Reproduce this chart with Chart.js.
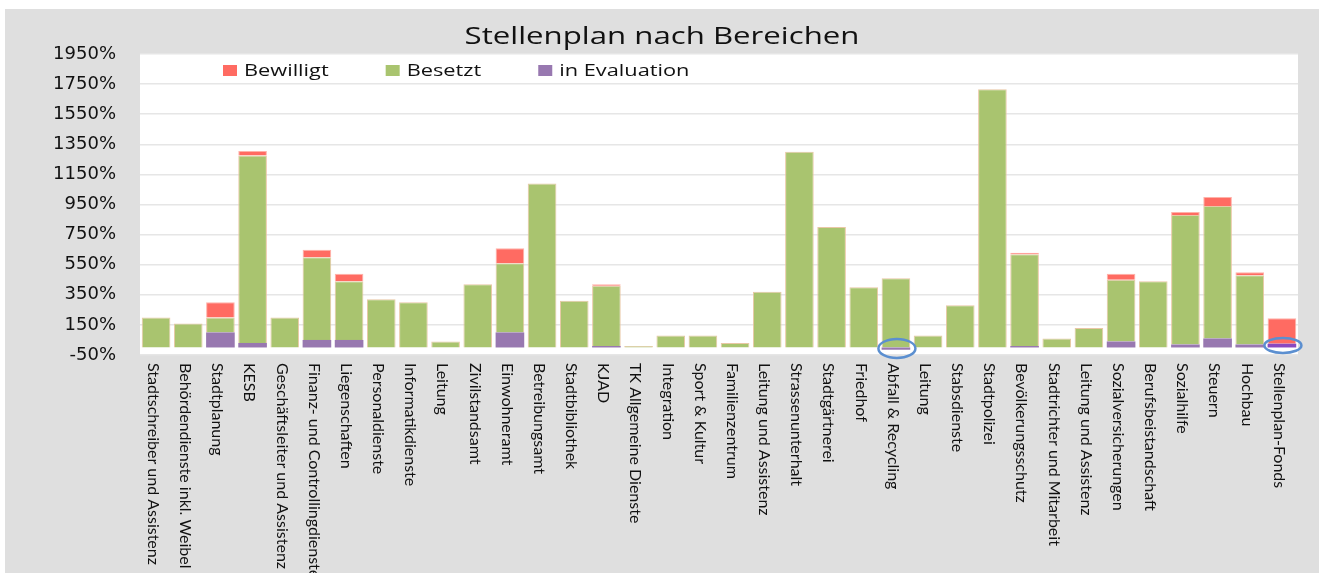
<!DOCTYPE html>
<html>
<head>
<meta charset="utf-8">
<script src="https://cdn.jsdelivr.net/npm/chart.js@4/dist/chart.umd.min.js"></script>
<style>
  html, body { margin: 0; padding: 0; background: #fff; }
  #chart { display: block; }
</style>
</head>
<body>
<canvas id="chart" width="1325" height="573"></canvas>
<script>
// Categories (x axis), left to right
const categories = [
  'Stadtschreiber und Assistenz', 'Behördendienste inkl. Weibel', 'Stadtplanung', 'KESB',
  'Geschäftsleiter und Assistenz', 'Finanz- und Controllingdienste', 'Liegenschaften',
  'Personaldienste', 'Informatikdienste', 'Leitung', 'Zivilstandsamt', 'Einwohneramt',
  'Betreibungsamt', 'Stadtbibliothek', 'KJAD', 'TK Allgemeine Dienste', 'Integration',
  'Sport & Kultur', 'Familienzentrum', 'Leitung und Assistenz', 'Strassenunterhalt',
  'Stadtgärtnerei', 'Friedhof', 'Abfall & Recycling', 'Leitung', 'Stabsdienste',
  'Stadtpolizei', 'Bevölkerungsschutz', 'Stadtrichter und Mitarbeit', 'Leitung und Assistenz',
  'Sozialversicherungen', 'Berufsbeistandschaft', 'Sozialhilfe', 'Steuern', 'Hochbau',
  'Stellenplan-Fonds'
];

// Series values in percent (stack: Evaluation at bottom, Besetzt, Bewilligt on top)
const inEvaluation = [
  0, 0, 100, 30, 0, 50, 50, 0, 0, 0, 0, 100, 0, 0, 10, 0, 0, 0,
  0, 0, 0, 0, 0, -15, 0, 0, 0, 10, 0, 0, 40, 0, 20, 60, 20, 25
];
const besetzt = [
  200, 160, 100, 1245, 200, 550, 390, 320, 300, 40, 420, 460, 1090, 310, 400, 10, 80, 80,
  30, 370, 1300, 800, 400, 460, 80, 280, 1715, 610, 60, 130, 410, 440, 860, 880, 460, 0
];
const bewilligt = [
  0, 0, 100, 30, 0, 50, 50, 0, 0, 0, 0, 100, 0, 0, 10, 0, 0, 0,
  0, 0, 0, 0, 0, 0, 0, 0, 0, 10, 0, 0, 40, 0, 20, 60, 20, 170
];

// Y axis ticks
const yMin = -50;
const yMax = 1950;
const yStep = 200;

// Categories marked with a circle in the original
const circled = ['Abfall & Recycling', 'Stellenplan-Fonds'];

const RED = '#ff6b62';
const GREEN = '#a9c46f';
const PURPLE = '#9878b0';
const BORDER = 'rgba(232, 196, 160, 0.95)';

const nz = arr => arr.map(v => (v === 0 ? null : v));
const evalColors = categories.map(c => (c === 'Stellenplan-Fonds' ? '#8a48c0' : PURPLE));

// text in the original is a bit stretched sideways
function wideText(ctx, text, x, y, sx) {
  ctx.save();
  ctx.translate(x, y);
  ctx.scale(sx, 1);
  ctx.fillText(text, 0, 0);
  ctx.restore();
}

const framePlugin = {
  id: 'frame',
  beforeDraw(chart) {
    const { ctx, chartArea: a } = chart;
    ctx.save();
    ctx.fillStyle = '#ffffff';
    ctx.fillRect(0, 0, chart.width, chart.height);
    ctx.fillStyle = '#dfdfdf';
    ctx.fillRect(5, 9, 1314, chart.height - 9);
    ctx.fillStyle = '#ffffff';
    ctx.fillRect(a.left, a.top, a.right - a.left, a.bottom - a.top);
    ctx.restore();
  },
  afterDatasetsDraw(chart) {
    const { ctx, scales } = chart;
    const x = scales.x, y = scales.y;
    ctx.save();
    ctx.strokeStyle = '#5b8fd0';
    ctx.lineWidth = 2.5;
    circled.forEach(name => {
      const i = categories.lastIndexOf(name);
      const last = i === categories.length - 1;
      const cx = x.getPixelForValue(i) + 1;
      const cy = y.getPixelForValue(0);
      ctx.beginPath();
      ctx.ellipse(cx, cy + (last ? -2 : 1), 18.5, last ? 7.5 : 9.5, 0, 0, Math.PI * 2);
      ctx.stroke();
    });
    ctx.restore();
  },
  afterDraw(chart) {
    const { ctx, scales } = chart;
    ctx.save();
    // title
    ctx.fillStyle = '#111';
    ctx.font = '24px "Open Sans"';
    ctx.textAlign = 'center';
    ctx.textBaseline = 'middle';
    wideText(ctx, 'Stellenplan nach Bereichen', 662, 37, 1.3);

    // legend (in the order of the original)
    ctx.font = '16px "Open Sans"';
    ctx.textAlign = 'left';
    const sx = 1.36;
    let lx = 223;
    [2, 1, 0].forEach(di => {
      const ds = chart.data.datasets[di];
      ctx.fillStyle = ds.legendColor;
      ctx.fillRect(lx, 65, 14, 11);
      ctx.fillStyle = '#111';
      wideText(ctx, ds.label, lx + 21, 71, sx);
      lx += 21 + ctx.measureText(ds.label).width * sx + 57;
    });

    // category labels, rotated clockwise
    ctx.font = '16px Lato';
    ctx.fillStyle = '#111';
    categories.forEach((c, i) => {
      const px = scales.x.getPixelForValue(i) - 3;
      ctx.save();
      ctx.translate(px, 363);
      ctx.rotate(Math.PI / 2);
      ctx.textAlign = 'left';
      ctx.textBaseline = 'middle';
      ctx.fillText(c, 0, 0);
      ctx.restore();
    });
    ctx.restore();
  }
};

new Chart(document.getElementById('chart'), {
  type: 'bar',
  data: {
    labels: categories,
    datasets: [
      {
        label: 'in Evaluation',
        data: nz(inEvaluation),
        backgroundColor: evalColors,
        legendColor: PURPLE,
        borderColor: BORDER,
        borderWidth: 0
      },
      {
        label: 'Besetzt',
        data: nz(besetzt),
        backgroundColor: GREEN,
        legendColor: GREEN,
        borderColor: BORDER,
        borderWidth: 1
      },
      {
        label: 'Bewilligt',
        data: nz(bewilligt),
        backgroundColor: RED,
        legendColor: RED,
        borderColor: 'rgba(255, 170, 160, 0.9)',
        borderWidth: 1
      }
    ]
  },
  options: {
    responsive: false,
    animation: false,
    devicePixelRatio: 1,
    layout: { padding: { top: 54, right: 27, left: 0, bottom: 0 } },
    datasets: { bar: { barPercentage: 0.89, categoryPercentage: 1 } },
    plugins: {
      legend: { display: false },
      title: { display: false },
      tooltip: { enabled: false }
    },
    scales: {
      x: {
        stacked: true,
        grid: { display: false },
        border: { display: false },
        ticks: { display: false },
        afterFit(scale) { scale.height = 218; }
      },
      y: {
        stacked: true,
        min: yMin,
        max: yMax,
        grid: { color: '#e6e6e6', lineWidth: 1.5, drawTicks: false },
        border: { display: false },
        ticks: {
          stepSize: yStep,
          padding: 24,
          color: '#111',
          font: { family: '"DejaVu Sans"', size: 18 },
          callback: v => v + '%'
        },
        afterFit(scale) { scale.width = 140; }
      }
    }
  },
  plugins: [framePlugin]
});
</script>
</body>
</html>
